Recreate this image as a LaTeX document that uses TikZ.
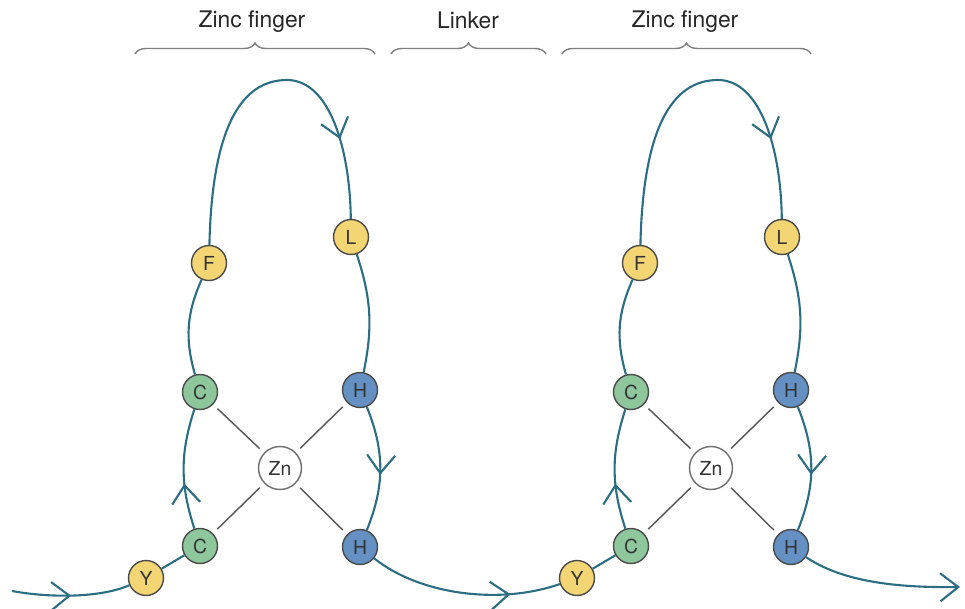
\documentclass[tikz,border=0pt]{standalone}
\usepackage{fontspec}
\setmainfont{TeX Gyre Heros}
\usetikzlibrary{positioning, arrows.meta, decorations.markings, decorations.pathreplacing}
\definecolor{cPath}{HTML}{2B6E84}
\definecolor{cYellow}{HTML}{F3D673}
\definecolor{cGreen}{HTML}{8FC79D}
\definecolor{cBlue}{HTML}{6590C4}
\definecolor{cRim}{HTML}{4A4A4A}
\definecolor{cBond}{HTML}{555555}
\definecolor{cBrace}{HTML}{808080}

\begin{document}
\begin{tikzpicture}[x=0.02cm, y=-0.02cm,
  residue/.style={circle, draw=cRim, line width=0.8pt, minimum size=0.7cm,
                  inner sep=0pt, font=\fontsize{11}{12}\selectfont, text=black!80},
  metal/.style={residue, fill=white, draw=cRim!80, minimum size=0.86cm},
  chain/.style={draw=cPath, line width=1.2pt},
  midarrow/.style={postaction={decorate}, decoration={markings,
                   mark=at position #1 with {\arrow{Straight Barb[length=3.6mm, width=5.6mm]}}}},
  bond/.style={draw=cBond, line width=0.8pt, shorten >=0.12cm, shorten <=0.12cm},
  spanbrace/.style={draw=cBrace, line width=0.8pt, decorate,
                 decoration={brace, amplitude=0.22cm}},
  spanlabel/.style={font=\fontsize{13}{15}\selectfont, text=black!85},
]
  \useasboundingbox (0,0) rectangle (965,609);

  % labels and braces
  \node[spanlabel] (lbA) at (252,22) {Zinc finger};
  \node[spanlabel] (lbLink) at (468,20) {Linker};
  \node[spanlabel] (lbB) at (685,22) {Zinc finger};
  \draw[spanbrace] (135,54) -- (375,54);
  \draw[spanbrace] (391,54) -- (546,54);
  \draw[spanbrace] (562,54) -- (811,54);

  % FIRST FINGER
  \node[residue, fill=cYellow] (Y1) at (146,578) {Y};
  \node[residue, fill=cGreen] (C1b) at (200,546) {C};
  \node[residue, fill=cGreen] (C1a) at (200,392) {C};
  \node[residue, fill=cYellow] (F1) at (209,263) {F};
  \node[residue, fill=cYellow] (L1) at (351,237) {L};
  \node[residue, fill=cBlue] (H1a) at (360,390) {H};
  \node[residue, fill=cBlue] (H1b) at (360,547) {H};
  \node[metal] (Zn1) at (280,468) {Zn};

  % SECOND FINGER
  \node[residue, fill=cYellow] (Y2) at (577,578) {Y};
  \node[residue, fill=cGreen] (C2b) at (631,546) {C};
  \node[residue, fill=cGreen] (C2a) at (631,392) {C};
  \node[residue, fill=cYellow] (F2) at (640,263) {F};
  \node[residue, fill=cYellow] (L2) at (782,237) {L};
  \node[residue, fill=cBlue] (H2a) at (791,390) {H};
  \node[residue, fill=cBlue] (H2b) at (791,547) {H};
  \node[metal] (Zn2) at (711,468) {Zn};

  \coordinate (inA) at (12,591);
  \coordinate (outB) at (960,587);

  % zinc bonds
  \foreach \f in {1,2} {
    \draw[bond] (C\f a) -- (Zn\f);
    \draw[bond] (H\f a) -- (Zn\f);
    \draw[bond] (C\f b) -- (Zn\f);
    \draw[bond] (H\f b) -- (Zn\f);
  }

  % backbone
  \draw[chain, midarrow=0.5] (inA) .. controls (50,598) and (100,598) .. (Y1);
  \draw[chain] (Y1) -- (C1b);
  \draw[chain, midarrow=0.38] (C1b) to[bend left=18] (C1a);
  \draw[chain] (C1a) to[bend left=20] (F1);
  \draw[chain, midarrow=0.78] (F1) .. controls (212,130) and (240,80) .. (287,80)
                               .. controls (330,80) and (350,150) .. (L1);
  \draw[chain] (L1) to[bend left=15] (H1a);
  \draw[chain, midarrow=0.55] (H1a) to[bend left=22] (H1b);
  \draw[chain, midarrow=0.74] (H1b) .. controls (420,595) and (500,605) .. (Y2);

  \draw[chain] (Y2) -- (C2b);
  \draw[chain, midarrow=0.38] (C2b) to[bend left=18] (C2a);
  \draw[chain] (C2a) to[bend left=20] (F2);
  \draw[chain, midarrow=0.78] (F2) .. controls (643,130) and (671,80) .. (718,80)
                               .. controls (761,80) and (781,150) .. (L2);
  \draw[chain] (L2) to[bend left=15] (H2a);
  \draw[chain, midarrow=0.55] (H2a) to[bend left=22] (H2b);
  \draw[chain, -{Straight Barb[length=3.6mm, width=5.6mm]}] (H2b) .. controls (840,580) and (890,588) .. (outB);
\end{tikzpicture}
\end{document}
